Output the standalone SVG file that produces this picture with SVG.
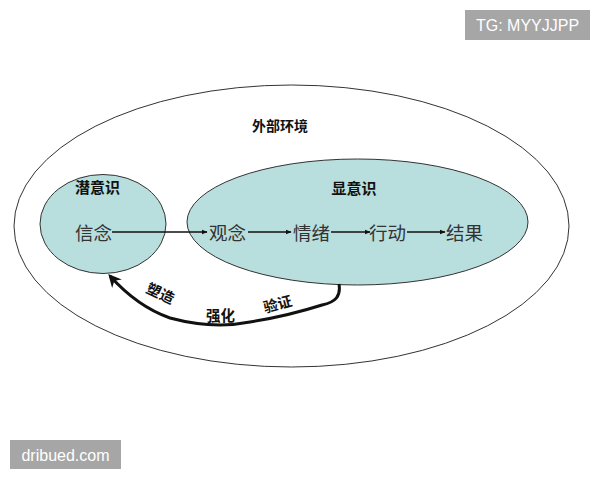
<svg xmlns="http://www.w3.org/2000/svg" width="600" height="480" viewBox="0 0 600 480">
<style>
.cn{font-family:"Noto Sans CJK SC","Liberation Sans",sans-serif;fill:#111}
.b{font-weight:bold;font-size:15px}
.r{font-size:18.5px;fill:#333}
.lbl{font-size:14.5px;font-weight:bold}
.wm{font-family:"Liberation Sans",Arial,sans-serif;font-size:16px;fill:#fff}
.ring{fill:#b8dede;stroke:#333;stroke-width:1}
.ln{stroke:#111;stroke-width:1.5;fill:none}
</style>
<defs>
<marker id="ah" viewBox="0 0 10 10" refX="9" refY="5" markerWidth="6" markerHeight="6" orient="auto" markerUnits="userSpaceOnUse">
<path d="M0,1 L10,5 L0,9 z" fill="#111"/>
</marker>
<marker id="ahb" viewBox="0 0 10 10" refX="8" refY="5" markerWidth="13" markerHeight="13" orient="auto" markerUnits="userSpaceOnUse">
<path d="M0,0 L10,5 L0,10 L3,5 z" fill="#111"/>
</marker>
</defs>
<rect width="600" height="480" fill="#fff"/>
<g id="outer">
<ellipse cx="291.5" cy="226" rx="277.5" ry="141" fill="none" stroke="#333" stroke-width="1"/>
<text class="cn b" x="280" y="131" text-anchor="middle" style="font-size:14px">外部环境</text>
</g>
<g id="subconscious">
<ellipse class="ring" cx="103" cy="224" rx="63" ry="49.5"/>
<text class="cn b" x="97.5" y="193" text-anchor="middle">潜意识</text>
</g>
<g id="conscious">
<ellipse class="ring" cx="357.5" cy="222" rx="170.5" ry="63"/>
<text class="cn b" x="354" y="194" text-anchor="middle">显意识</text>
</g>
<g id="n-xinnian"><text class="cn r" x="75" y="240">信念</text></g>
<g id="n-guannian"><text class="cn r" x="209" y="240">观念</text></g>
<g id="n-qingxu"><text class="cn r" x="293" y="240">情绪</text></g>
<g id="n-xingdong"><text class="cn r" x="369" y="240">行动</text></g>
<g id="n-jieguo"><text class="cn r" x="446" y="240">结果</text></g>
<g id="connectors">
<line class="ln" x1="112" y1="232" x2="207" y2="232" marker-end="url(#ah)"/>
<line class="ln" x1="248" y1="232" x2="291" y2="232" marker-end="url(#ah)"/>
<line class="ln" x1="331" y1="232" x2="370" y2="232" marker-end="url(#ah)"/>
<line class="ln" x1="407" y1="232" x2="445" y2="232" marker-end="url(#ah)"/>
<path d="M339,284 C341,296 336,302 322,305 C300,312 275,318 250,322 C225,327 200,326 170,318 C150,311 128,296 110,276" fill="none" stroke="#111" stroke-width="3" marker-end="url(#ahb)"/>
<text class="cn lbl" transform="translate(145,292) rotate(25)">塑造</text>
<text class="cn lbl" x="206" y="321">强化</text>
<text class="cn lbl" transform="translate(265,313) rotate(-15)">验证</text>
</g>
<g id="watermarks">
<rect x="465" y="10" width="125" height="30" fill="#a6a6a6"/>
<text class="wm" x="527.5" y="31" text-anchor="middle">TG: MYYJJPP</text>
<rect x="10" y="440" width="111" height="29" fill="#a6a6a6"/>
<text class="wm" x="65.5" y="461" text-anchor="middle">dribued.com</text>
</g>
</svg>
